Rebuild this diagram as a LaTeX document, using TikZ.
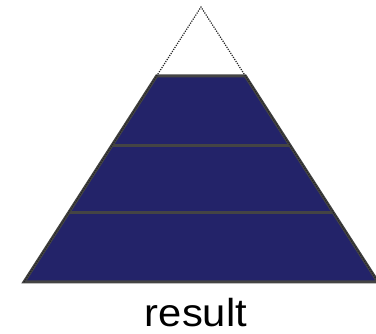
\documentclass[tikz,border=0pt]{standalone}
\usepackage{fontspec}
\setmainfont{Liberation Sans}
\definecolor{pyramidnavy}{RGB}{35,35,105}
\definecolor{pyramidgray}{RGB}{68,68,68}

\begin{document}
\begin{tikzpicture}[x=1pt,y=-1pt]
  \useasboundingbox (0,0) rectangle (376,334);
  \coordinate (apex) at (201,7);
  \coordinate (bl) at (24,282);
  \coordinate (br) at (378,282);
  \coordinate (tl) at (156.6,76);
  \coordinate (tr) at (245.4,76);
  \fill[pyramidnavy] (bl)--(tl)--(tr)--(br)--cycle;
  \foreach \y in {146,213}{
    \draw[pyramidgray,line width=3] ({201-0.6436*(\y-7)},\y)--({201+0.6436*(\y-7)},\y);}
  \draw[pyramidgray,line width=3] (bl)--(tl)--(tr)--(br)--cycle;
  \draw[dash pattern=on 1.2pt off 1.2pt,line width=1.2,black!85] (bl)--(apex)--(br);
  \node[font=\fontsize{39}{41}\selectfont,xscale=1.07,anchor=base] (label) at (196,327) {result};
\end{tikzpicture}
\end{document}
